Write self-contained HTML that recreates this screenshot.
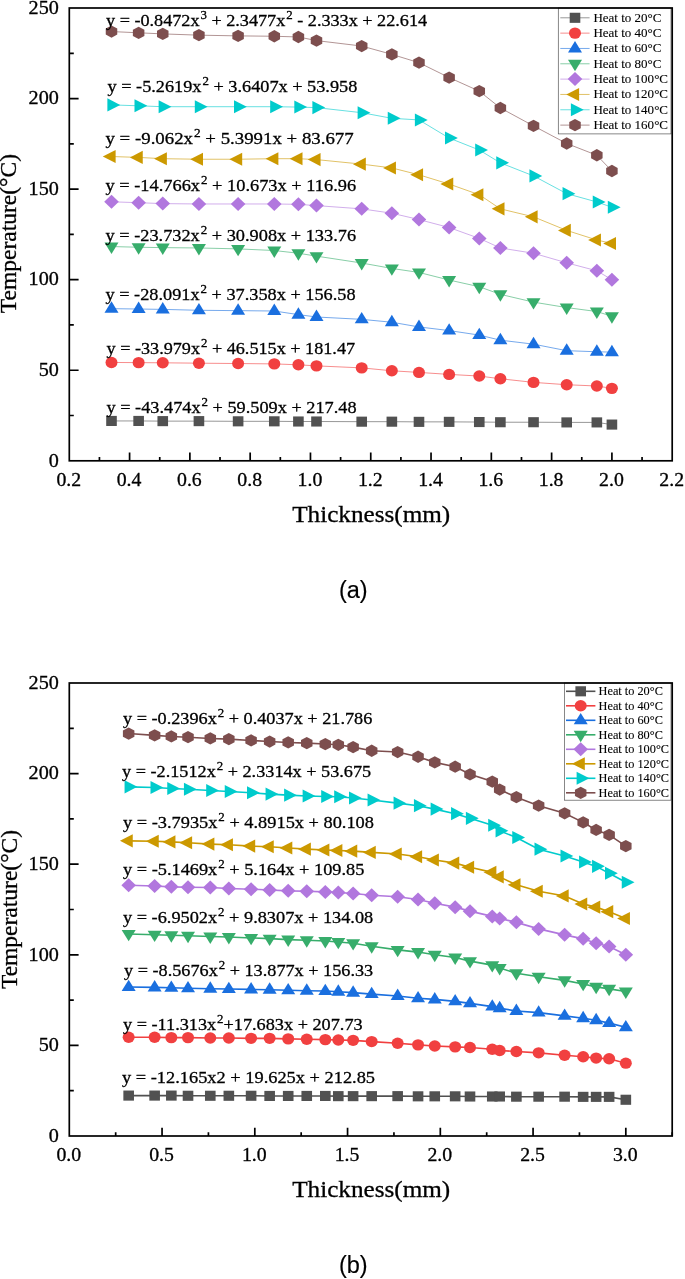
<!DOCTYPE html>
<html><head><meta charset="utf-8"><title>Temperature vs Thickness</title>
<style>
html,body{margin:0;padding:0;background:#fff;}
svg{display:block;will-change:transform;}
text{font-family:"Liberation Serif",serif;fill:#000;stroke:#000;stroke-width:0.3px;}
text.lg{stroke-width:0.1px;}
text.cap{font-family:"Liberation Sans",sans-serif;stroke-width:0.15px;}
</style></head>
<body>
<svg width="685" height="1279" viewBox="0 0 685 1279">
<rect width="685" height="1279" fill="#fff"/>
<g id="panel-a">
<polyline points="111.50,420.95 138.63,420.95 162.75,421.13 198.92,421.13 238.11,421.32 274.29,421.32 298.40,421.50 316.49,421.50 361.71,421.68 391.85,421.68 418.98,421.86 449.13,421.86 479.27,422.04 500.37,422.22 533.53,422.22 566.69,422.40 596.84,422.40 611.91,424.58" fill="none" stroke="#515151" stroke-width="0.6"/>
<rect x="106.20" y="415.90" width="10.61" height="10.10" fill="#515151"/>
<rect x="133.33" y="415.90" width="10.61" height="10.10" fill="#515151"/>
<rect x="157.45" y="416.08" width="10.61" height="10.10" fill="#515151"/>
<rect x="193.62" y="416.08" width="10.61" height="10.10" fill="#515151"/>
<rect x="232.81" y="416.27" width="10.61" height="10.10" fill="#515151"/>
<rect x="268.98" y="416.27" width="10.61" height="10.10" fill="#515151"/>
<rect x="293.10" y="416.45" width="10.61" height="10.10" fill="#515151"/>
<rect x="311.19" y="416.45" width="10.61" height="10.10" fill="#515151"/>
<rect x="356.40" y="416.63" width="10.61" height="10.10" fill="#515151"/>
<rect x="386.55" y="416.63" width="10.61" height="10.10" fill="#515151"/>
<rect x="413.68" y="416.81" width="10.61" height="10.10" fill="#515151"/>
<rect x="443.82" y="416.81" width="10.61" height="10.10" fill="#515151"/>
<rect x="473.97" y="416.99" width="10.61" height="10.10" fill="#515151"/>
<rect x="495.07" y="417.17" width="10.61" height="10.10" fill="#515151"/>
<rect x="528.23" y="417.17" width="10.61" height="10.10" fill="#515151"/>
<rect x="561.39" y="417.35" width="10.61" height="10.10" fill="#515151"/>
<rect x="591.54" y="417.35" width="10.61" height="10.10" fill="#515151"/>
<rect x="606.61" y="419.53" width="10.61" height="10.10" fill="#515151"/>
<polyline points="111.50,362.45 138.63,362.63 162.75,362.81 198.92,363.18 238.11,363.54 274.29,363.90 298.40,364.81 316.49,365.89 361.71,367.89 391.85,370.78 418.98,372.41 449.13,374.41 479.27,376.04 500.37,378.75 533.53,382.38 566.69,384.73 596.84,386.00 611.91,388.35" fill="none" stroke="#F14040" stroke-width="0.6"/>
<ellipse cx="111.50" cy="362.45" rx="6.00" ry="5.70" fill="#F14040"/>
<ellipse cx="138.63" cy="362.63" rx="6.00" ry="5.70" fill="#F14040"/>
<ellipse cx="162.75" cy="362.81" rx="6.00" ry="5.70" fill="#F14040"/>
<ellipse cx="198.92" cy="363.18" rx="6.00" ry="5.70" fill="#F14040"/>
<ellipse cx="238.11" cy="363.54" rx="6.00" ry="5.70" fill="#F14040"/>
<ellipse cx="274.29" cy="363.90" rx="6.00" ry="5.70" fill="#F14040"/>
<ellipse cx="298.40" cy="364.81" rx="6.00" ry="5.70" fill="#F14040"/>
<ellipse cx="316.49" cy="365.89" rx="6.00" ry="5.70" fill="#F14040"/>
<ellipse cx="361.71" cy="367.89" rx="6.00" ry="5.70" fill="#F14040"/>
<ellipse cx="391.85" cy="370.78" rx="6.00" ry="5.70" fill="#F14040"/>
<ellipse cx="418.98" cy="372.41" rx="6.00" ry="5.70" fill="#F14040"/>
<ellipse cx="449.13" cy="374.41" rx="6.00" ry="5.70" fill="#F14040"/>
<ellipse cx="479.27" cy="376.04" rx="6.00" ry="5.70" fill="#F14040"/>
<ellipse cx="500.37" cy="378.75" rx="6.00" ry="5.70" fill="#F14040"/>
<ellipse cx="533.53" cy="382.38" rx="6.00" ry="5.70" fill="#F14040"/>
<ellipse cx="566.69" cy="384.73" rx="6.00" ry="5.70" fill="#F14040"/>
<ellipse cx="596.84" cy="386.00" rx="6.00" ry="5.70" fill="#F14040"/>
<ellipse cx="611.91" cy="388.35" rx="6.00" ry="5.70" fill="#F14040"/>
<polyline points="111.50,308.66 138.63,309.02 162.75,309.38 198.92,310.29 238.11,310.65 274.29,311.01 298.40,314.64 316.49,316.99 361.71,319.35 391.85,322.24 418.98,326.95 449.13,330.57 479.27,335.10 500.37,340.17 533.53,344.16 566.69,350.68 596.84,351.77 611.91,352.13" fill="none" stroke="#1A6FDF" stroke-width="0.6"/>
<polygon points="111.50,301.26 118.50,312.66 104.50,312.66" fill="#1A6FDF"/>
<polygon points="138.63,301.62 145.63,313.02 131.63,313.02" fill="#1A6FDF"/>
<polygon points="162.75,301.98 169.75,313.38 155.75,313.38" fill="#1A6FDF"/>
<polygon points="198.92,302.89 205.92,314.29 191.92,314.29" fill="#1A6FDF"/>
<polygon points="238.11,303.25 245.11,314.65 231.11,314.65" fill="#1A6FDF"/>
<polygon points="274.29,303.61 281.29,315.01 267.29,315.01" fill="#1A6FDF"/>
<polygon points="298.40,307.24 305.40,318.64 291.40,318.64" fill="#1A6FDF"/>
<polygon points="316.49,309.59 323.49,320.99 309.49,320.99" fill="#1A6FDF"/>
<polygon points="361.71,311.95 368.71,323.35 354.71,323.35" fill="#1A6FDF"/>
<polygon points="391.85,314.84 398.85,326.24 384.85,326.24" fill="#1A6FDF"/>
<polygon points="418.98,319.55 425.98,330.95 411.98,330.95" fill="#1A6FDF"/>
<polygon points="449.13,323.17 456.13,334.57 442.13,334.57" fill="#1A6FDF"/>
<polygon points="479.27,327.70 486.27,339.10 472.27,339.10" fill="#1A6FDF"/>
<polygon points="500.37,332.77 507.37,344.17 493.37,344.17" fill="#1A6FDF"/>
<polygon points="533.53,336.76 540.53,348.16 526.53,348.16" fill="#1A6FDF"/>
<polygon points="566.69,343.28 573.69,354.68 559.69,354.68" fill="#1A6FDF"/>
<polygon points="596.84,344.37 603.84,355.77 589.84,355.77" fill="#1A6FDF"/>
<polygon points="611.91,344.73 618.91,356.13 604.91,356.13" fill="#1A6FDF"/>
<polyline points="111.50,246.54 138.63,247.26 162.75,247.62 198.92,247.98 238.11,248.89 274.29,250.52 298.40,253.24 316.49,256.13 361.71,263.02 391.85,268.45 418.98,272.44 449.13,280.04 479.27,286.74 500.37,294.35 533.53,302.14 566.69,307.57 596.84,311.56 611.91,316.27" fill="none" stroke="#37AD6B" stroke-width="0.6"/>
<polygon points="111.50,253.94 118.50,242.54 104.50,242.54" fill="#37AD6B"/>
<polygon points="138.63,254.66 145.63,243.26 131.63,243.26" fill="#37AD6B"/>
<polygon points="162.75,255.02 169.75,243.62 155.75,243.62" fill="#37AD6B"/>
<polygon points="198.92,255.38 205.92,243.98 191.92,243.98" fill="#37AD6B"/>
<polygon points="238.11,256.29 245.11,244.89 231.11,244.89" fill="#37AD6B"/>
<polygon points="274.29,257.92 281.29,246.52 267.29,246.52" fill="#37AD6B"/>
<polygon points="298.40,260.64 305.40,249.24 291.40,249.24" fill="#37AD6B"/>
<polygon points="316.49,263.53 323.49,252.13 309.49,252.13" fill="#37AD6B"/>
<polygon points="361.71,270.42 368.71,259.02 354.71,259.02" fill="#37AD6B"/>
<polygon points="391.85,275.85 398.85,264.45 384.85,264.45" fill="#37AD6B"/>
<polygon points="418.98,279.84 425.98,268.44 411.98,268.44" fill="#37AD6B"/>
<polygon points="449.13,287.44 456.13,276.04 442.13,276.04" fill="#37AD6B"/>
<polygon points="479.27,294.14 486.27,282.74 472.27,282.74" fill="#37AD6B"/>
<polygon points="500.37,301.75 507.37,290.35 493.37,290.35" fill="#37AD6B"/>
<polygon points="533.53,309.54 540.53,298.14 526.53,298.14" fill="#37AD6B"/>
<polygon points="566.69,314.97 573.69,303.57 559.69,303.57" fill="#37AD6B"/>
<polygon points="596.84,318.96 603.84,307.56 589.84,307.56" fill="#37AD6B"/>
<polygon points="611.91,323.67 618.91,312.27 604.91,312.27" fill="#37AD6B"/>
<polyline points="111.50,201.80 138.63,202.70 162.75,203.61 198.92,203.97 238.11,203.97 274.29,203.97 298.40,204.33 316.49,205.60 361.71,208.86 391.85,213.21 418.98,219.55 449.13,227.52 479.27,238.38 500.37,247.98 533.53,253.24 566.69,262.84 596.84,270.81 611.91,279.68" fill="none" stroke="#B177DE" stroke-width="0.6"/>
<polygon points="111.50,194.80 118.80,201.80 111.50,208.80 104.20,201.80" fill="#B177DE"/>
<polygon points="138.63,195.70 145.93,202.70 138.63,209.70 131.33,202.70" fill="#B177DE"/>
<polygon points="162.75,196.61 170.05,203.61 162.75,210.61 155.45,203.61" fill="#B177DE"/>
<polygon points="198.92,196.97 206.22,203.97 198.92,210.97 191.62,203.97" fill="#B177DE"/>
<polygon points="238.11,196.97 245.41,203.97 238.11,210.97 230.81,203.97" fill="#B177DE"/>
<polygon points="274.29,196.97 281.59,203.97 274.29,210.97 266.99,203.97" fill="#B177DE"/>
<polygon points="298.40,197.33 305.70,204.33 298.40,211.33 291.10,204.33" fill="#B177DE"/>
<polygon points="316.49,198.60 323.79,205.60 316.49,212.60 309.19,205.60" fill="#B177DE"/>
<polygon points="361.71,201.86 369.01,208.86 361.71,215.86 354.41,208.86" fill="#B177DE"/>
<polygon points="391.85,206.21 399.15,213.21 391.85,220.21 384.55,213.21" fill="#B177DE"/>
<polygon points="418.98,212.55 426.28,219.55 418.98,226.55 411.68,219.55" fill="#B177DE"/>
<polygon points="449.13,220.52 456.43,227.52 449.13,234.52 441.83,227.52" fill="#B177DE"/>
<polygon points="479.27,231.38 486.57,238.38 479.27,245.38 471.97,238.38" fill="#B177DE"/>
<polygon points="500.37,240.98 507.67,247.98 500.37,254.98 493.07,247.98" fill="#B177DE"/>
<polygon points="533.53,246.24 540.83,253.24 533.53,260.24 526.23,253.24" fill="#B177DE"/>
<polygon points="566.69,255.84 573.99,262.84 566.69,269.84 559.39,262.84" fill="#B177DE"/>
<polygon points="596.84,263.81 604.14,270.81 596.84,277.81 589.54,270.81" fill="#B177DE"/>
<polygon points="611.91,272.68 619.21,279.68 611.91,286.68 604.61,279.68" fill="#B177DE"/>
<polyline points="111.50,156.52 138.63,157.42 162.75,158.69 198.92,159.24 238.11,159.24 274.29,158.69 298.40,158.69 316.49,159.60 361.71,164.13 391.85,167.93 418.98,174.81 449.13,184.05 479.27,194.73 500.37,208.86 533.53,216.83 566.69,230.42 596.84,240.01 611.91,243.46" fill="none" stroke="#CC9900" stroke-width="0.6"/>
<polygon points="102.80,156.52 115.60,149.97 115.60,163.07" fill="#CC9900"/>
<polygon points="129.93,157.42 142.73,150.87 142.73,163.97" fill="#CC9900"/>
<polygon points="154.05,158.69 166.85,152.14 166.85,165.24" fill="#CC9900"/>
<polygon points="190.22,159.24 203.02,152.69 203.02,165.79" fill="#CC9900"/>
<polygon points="229.41,159.24 242.21,152.69 242.21,165.79" fill="#CC9900"/>
<polygon points="265.59,158.69 278.39,152.14 278.39,165.24" fill="#CC9900"/>
<polygon points="289.70,158.69 302.50,152.14 302.50,165.24" fill="#CC9900"/>
<polygon points="307.79,159.60 320.59,153.05 320.59,166.15" fill="#CC9900"/>
<polygon points="353.01,164.13 365.81,157.58 365.81,170.68" fill="#CC9900"/>
<polygon points="383.15,167.93 395.95,161.38 395.95,174.48" fill="#CC9900"/>
<polygon points="410.28,174.81 423.08,168.26 423.08,181.36" fill="#CC9900"/>
<polygon points="440.43,184.05 453.23,177.50 453.23,190.60" fill="#CC9900"/>
<polygon points="470.57,194.73 483.37,188.18 483.37,201.28" fill="#CC9900"/>
<polygon points="491.67,208.86 504.47,202.31 504.47,215.41" fill="#CC9900"/>
<polygon points="524.83,216.83 537.63,210.28 537.63,223.38" fill="#CC9900"/>
<polygon points="557.99,230.42 570.79,223.87 570.79,236.97" fill="#CC9900"/>
<polygon points="588.14,240.01 600.94,233.46 600.94,246.56" fill="#CC9900"/>
<polygon points="603.21,243.46 616.01,236.91 616.01,250.01" fill="#CC9900"/>
<polyline points="111.50,104.90 138.63,105.80 162.75,106.71 198.92,106.71 238.11,106.71 274.29,106.71 298.40,107.07 316.49,107.62 361.71,112.69 391.85,118.30 418.98,119.93 449.13,138.04 479.27,150.00 500.37,162.86 533.53,175.90 566.69,193.65 596.84,201.98 611.91,207.23" fill="none" stroke="#00CBCC" stroke-width="0.6"/>
<polygon points="120.20,104.90 107.40,98.35 107.40,111.45" fill="#00CBCC"/>
<polygon points="147.33,105.80 134.53,99.25 134.53,112.35" fill="#00CBCC"/>
<polygon points="171.45,106.71 158.65,100.16 158.65,113.26" fill="#00CBCC"/>
<polygon points="207.62,106.71 194.82,100.16 194.82,113.26" fill="#00CBCC"/>
<polygon points="246.81,106.71 234.01,100.16 234.01,113.26" fill="#00CBCC"/>
<polygon points="282.99,106.71 270.19,100.16 270.19,113.26" fill="#00CBCC"/>
<polygon points="307.10,107.07 294.30,100.52 294.30,113.62" fill="#00CBCC"/>
<polygon points="325.19,107.62 312.39,101.07 312.39,114.17" fill="#00CBCC"/>
<polygon points="370.41,112.69 357.61,106.14 357.61,119.24" fill="#00CBCC"/>
<polygon points="400.55,118.30 387.75,111.75 387.75,124.85" fill="#00CBCC"/>
<polygon points="427.68,119.93 414.88,113.38 414.88,126.48" fill="#00CBCC"/>
<polygon points="457.83,138.04 445.03,131.49 445.03,144.59" fill="#00CBCC"/>
<polygon points="487.97,150.00 475.17,143.45 475.17,156.55" fill="#00CBCC"/>
<polygon points="509.07,162.86 496.27,156.31 496.27,169.41" fill="#00CBCC"/>
<polygon points="542.23,175.90 529.43,169.35 529.43,182.45" fill="#00CBCC"/>
<polygon points="575.39,193.65 562.59,187.10 562.59,200.20" fill="#00CBCC"/>
<polygon points="605.54,201.98 592.74,195.43 592.74,208.53" fill="#00CBCC"/>
<polygon points="620.61,207.23 607.81,200.68 607.81,213.78" fill="#00CBCC"/>
<polyline points="111.50,31.55 138.63,32.81 162.75,33.90 198.92,35.17 238.11,35.89 274.29,36.25 298.40,36.98 316.49,40.60 361.71,46.04 391.85,54.37 418.98,62.70 449.13,77.55 479.27,91.13 500.37,107.98 533.53,125.91 566.69,143.48 596.84,155.25 611.91,171.01" fill="none" stroke="#7D4E4E" stroke-width="0.6"/>
<polygon points="111.50,25.40 117.25,28.47 117.25,34.62 111.50,37.70 105.75,34.62 105.75,28.47" fill="#7D4E4E"/>
<polygon points="138.63,26.66 144.38,29.74 144.38,35.89 138.63,38.96 132.88,35.89 132.88,29.74" fill="#7D4E4E"/>
<polygon points="162.75,27.75 168.50,30.83 168.50,36.98 162.75,40.05 157.00,36.98 157.00,30.83" fill="#7D4E4E"/>
<polygon points="198.92,29.02 204.67,32.09 204.67,38.24 198.92,41.32 193.17,38.24 193.17,32.09" fill="#7D4E4E"/>
<polygon points="238.11,29.74 243.86,32.82 243.86,38.97 238.11,42.04 232.36,38.97 232.36,32.82" fill="#7D4E4E"/>
<polygon points="274.29,30.10 280.04,33.18 280.04,39.33 274.29,42.40 268.54,39.33 268.54,33.18" fill="#7D4E4E"/>
<polygon points="298.40,30.83 304.15,33.90 304.15,40.05 298.40,43.13 292.65,40.05 292.65,33.90" fill="#7D4E4E"/>
<polygon points="316.49,34.45 322.24,37.53 322.24,43.68 316.49,46.75 310.74,43.68 310.74,37.53" fill="#7D4E4E"/>
<polygon points="361.71,39.89 367.46,42.96 367.46,49.11 361.71,52.19 355.96,49.11 355.96,42.96" fill="#7D4E4E"/>
<polygon points="391.85,48.22 397.60,51.29 397.60,57.44 391.85,60.52 386.10,57.44 386.10,51.29" fill="#7D4E4E"/>
<polygon points="418.98,56.55 424.73,59.62 424.73,65.77 418.98,68.85 413.23,65.77 413.23,59.62" fill="#7D4E4E"/>
<polygon points="449.13,71.40 454.88,74.48 454.88,80.63 449.13,83.70 443.38,80.63 443.38,74.48" fill="#7D4E4E"/>
<polygon points="479.27,84.98 485.02,88.06 485.02,94.21 479.27,97.28 473.52,94.21 473.52,88.06" fill="#7D4E4E"/>
<polygon points="500.37,101.83 506.12,104.90 506.12,111.05 500.37,114.13 494.62,111.05 494.62,104.90" fill="#7D4E4E"/>
<polygon points="533.53,119.76 539.28,122.83 539.28,128.98 533.53,132.06 527.78,128.98 527.78,122.83" fill="#7D4E4E"/>
<polygon points="566.69,137.33 572.44,140.40 572.44,146.55 566.69,149.63 560.94,146.55 560.94,140.40" fill="#7D4E4E"/>
<polygon points="596.84,149.10 602.59,152.18 602.59,158.33 596.84,161.40 591.09,158.33 591.09,152.18" fill="#7D4E4E"/>
<polygon points="611.91,164.86 617.66,167.93 617.66,174.08 611.91,177.16 606.16,174.08 606.16,167.93" fill="#7D4E4E"/>
<text transform="translate(106.0,25.8) scale(1.0396,1)" font-size="17.5">y = -0.8472x<tspan dx="0.9" dy="-7.0" font-size="12.4">3</tspan><tspan dy="7.0"> + 2.3477x</tspan><tspan dx="0.9" dy="-7.0" font-size="12.4">2</tspan><tspan dy="7.0"> - 2.333x + 22.614</tspan></text>
<text transform="translate(107.5,91.9) scale(1.0444,1)" font-size="17.5">y = -5.2619x<tspan dx="0.9" dy="-7.0" font-size="12.4">2</tspan><tspan dy="7.0"> + 3.6407x + 53.958</tspan></text>
<text transform="translate(105.5,144.2) scale(1.0764,1)" font-size="17.5">y = -9.062x<tspan dx="0.9" dy="-7.0" font-size="12.4">2</tspan><tspan dy="7.0"> + 5.3991x + 83.677</tspan></text>
<text transform="translate(105.5,191.1) scale(1.0498,1)" font-size="17.5">y = -14.766x<tspan dx="0.9" dy="-7.0" font-size="12.4">2</tspan><tspan dy="7.0"> + 10.673x + 116.96</tspan></text>
<text transform="translate(105.5,240.8) scale(1.0472,1)" font-size="17.5">y = -23.732x<tspan dx="0.9" dy="-7.0" font-size="12.4">2</tspan><tspan dy="7.0"> + 30.908x + 133.76</tspan></text>
<text transform="translate(105.5,299.7) scale(1.0453,1)" font-size="17.5">y = -28.091x<tspan dx="0.9" dy="-7.0" font-size="12.4">2</tspan><tspan dy="7.0"> + 37.358x + 156.58</tspan></text>
<text transform="translate(106.5,353.5) scale(1.0393,1)" font-size="17.5">y = -33.979x<tspan dx="0.9" dy="-7.0" font-size="12.4">2</tspan><tspan dy="7.0"> + 46.515x + 181.47</tspan></text>
<text transform="translate(106.5,412.7) scale(1.0453,1)" font-size="17.5">y = -43.474x<tspan dx="0.9" dy="-7.0" font-size="12.4">2</tspan><tspan dy="7.0"> + 59.509x + 217.48</tspan></text>
<path d="M129.59,460.8 v-8.3 M189.88,460.8 v-8.3 M250.17,460.8 v-8.3 M310.46,460.8 v-8.3 M370.75,460.8 v-8.3 M431.04,460.8 v-8.3 M491.33,460.8 v-8.3 M551.62,460.8 v-8.3 M611.91,460.8 v-8.3 M99.44,460.8 v-3.8 M159.74,460.8 v-3.8 M220.02,460.8 v-3.8 M280.32,460.8 v-3.8 M340.61,460.8 v-3.8 M400.90,460.8 v-3.8 M461.19,460.8 v-3.8 M521.48,460.8 v-3.8 M581.77,460.8 v-3.8 M642.06,460.8 v-3.8 M69.3,370.24 h9.3 M69.3,279.68 h9.3 M69.3,189.12 h9.3 M69.3,98.56 h9.3 M69.3,415.52 h4.5 M69.3,324.96 h4.5 M69.3,234.40 h4.5 M69.3,143.84 h4.5 M69.3,53.28 h4.5" stroke="#000" stroke-width="1.7" fill="none"/>
<rect x="558.3" y="8.0" width="112.7" height="125.9" fill="#fff" stroke="#555" stroke-width="0.7"/>
<line x1="560.3" y1="17.80" x2="589.6" y2="17.80" stroke="#515151" stroke-width="0.6"/>
<rect x="569.70" y="12.75" width="10.61" height="10.10" fill="#515151"/>
<text class="lg" transform="translate(593.4,21.67) scale(1.01,1)" font-size="12.9">Heat to 20°C</text>
<line x1="560.3" y1="33.13" x2="589.6" y2="33.13" stroke="#F14040" stroke-width="0.6"/>
<ellipse cx="575.00" cy="33.13" rx="6.00" ry="5.70" fill="#F14040"/>
<text class="lg" transform="translate(593.4,37.00) scale(1.01,1)" font-size="12.9">Heat to 40°C</text>
<line x1="560.3" y1="48.46" x2="589.6" y2="48.46" stroke="#1A6FDF" stroke-width="0.6"/>
<polygon points="575.00,41.06 582.00,52.46 568.00,52.46" fill="#1A6FDF"/>
<text class="lg" transform="translate(593.4,52.33) scale(1.01,1)" font-size="12.9">Heat to 60°C</text>
<line x1="560.3" y1="63.79" x2="589.6" y2="63.79" stroke="#37AD6B" stroke-width="0.6"/>
<polygon points="575.00,71.19 582.00,59.79 568.00,59.79" fill="#37AD6B"/>
<text class="lg" transform="translate(593.4,67.66) scale(1.01,1)" font-size="12.9">Heat to 80°C</text>
<line x1="560.3" y1="79.12" x2="589.6" y2="79.12" stroke="#B177DE" stroke-width="0.6"/>
<polygon points="575.00,72.12 582.30,79.12 575.00,86.12 567.70,79.12" fill="#B177DE"/>
<text class="lg" transform="translate(593.4,82.99) scale(1.01,1)" font-size="12.9">Heat to 100°C</text>
<line x1="560.3" y1="94.45" x2="589.6" y2="94.45" stroke="#CC9900" stroke-width="0.6"/>
<polygon points="566.30,94.45 579.10,87.90 579.10,101.00" fill="#CC9900"/>
<text class="lg" transform="translate(593.4,98.32) scale(1.01,1)" font-size="12.9">Heat to 120°C</text>
<line x1="560.3" y1="109.78" x2="589.6" y2="109.78" stroke="#00CBCC" stroke-width="0.6"/>
<polygon points="583.70,109.78 570.90,103.23 570.90,116.33" fill="#00CBCC"/>
<text class="lg" transform="translate(593.4,113.65) scale(1.01,1)" font-size="12.9">Heat to 140°C</text>
<line x1="560.3" y1="125.11" x2="589.6" y2="125.11" stroke="#7D4E4E" stroke-width="0.6"/>
<polygon points="575.00,118.96 580.75,122.03 580.75,128.19 575.00,131.26 569.25,128.19 569.25,122.03" fill="#7D4E4E"/>
<text class="lg" transform="translate(593.4,128.98) scale(1.01,1)" font-size="12.9">Heat to 160°C</text>
<rect x="69.3" y="8.0" width="602.9" height="452.8" fill="none" stroke="#000" stroke-width="1.7"/>
<text transform="translate(58.8,466.60) scale(1.05,1)" font-size="19.2" text-anchor="end">0</text>
<text transform="translate(58.8,376.04) scale(1.05,1)" font-size="19.2" text-anchor="end">50</text>
<text transform="translate(58.8,285.48) scale(1.05,1)" font-size="19.2" text-anchor="end">100</text>
<text transform="translate(58.8,194.92) scale(1.05,1)" font-size="19.2" text-anchor="end">150</text>
<text transform="translate(58.8,104.36) scale(1.05,1)" font-size="19.2" text-anchor="end">200</text>
<text transform="translate(58.8,13.80) scale(1.05,1)" font-size="19.2" text-anchor="end">250</text>
<text transform="translate(68.80,485.50) scale(1.03,1)" font-size="19.2" text-anchor="middle">0.2</text>
<text transform="translate(129.09,485.50) scale(1.03,1)" font-size="19.2" text-anchor="middle">0.4</text>
<text transform="translate(189.38,485.50) scale(1.03,1)" font-size="19.2" text-anchor="middle">0.6</text>
<text transform="translate(249.67,485.50) scale(1.03,1)" font-size="19.2" text-anchor="middle">0.8</text>
<text transform="translate(309.96,485.50) scale(1.03,1)" font-size="19.2" text-anchor="middle">1.0</text>
<text transform="translate(370.25,485.50) scale(1.03,1)" font-size="19.2" text-anchor="middle">1.2</text>
<text transform="translate(430.54,485.50) scale(1.03,1)" font-size="19.2" text-anchor="middle">1.4</text>
<text transform="translate(490.83,485.50) scale(1.03,1)" font-size="19.2" text-anchor="middle">1.6</text>
<text transform="translate(551.12,485.50) scale(1.03,1)" font-size="19.2" text-anchor="middle">1.8</text>
<text transform="translate(611.41,485.50) scale(1.03,1)" font-size="19.2" text-anchor="middle">2.0</text>
<text transform="translate(671.70,485.50) scale(1.03,1)" font-size="19.2" text-anchor="middle">2.2</text>
<text transform="translate(371.2,522.0) scale(1.05,1)" font-size="24" text-anchor="middle">Thickness(mm)</text>
<text transform="translate(16.4,233.6) rotate(-90) scale(0.98,1)" font-size="24" text-anchor="middle">Temperature(°C)</text>
<text class="cap" x="353.3" y="598" font-size="23.5" text-anchor="middle">(a)</text>
</g>
<g id="panel-b">
<polyline points="128.66,1095.59 154.63,1095.59 171.33,1095.59 188.02,1095.77 210.29,1095.77 228.84,1095.77 251.10,1095.77 269.65,1095.95 288.20,1095.95 306.75,1095.95 325.30,1095.95 338.29,1096.14 353.13,1096.14 371.68,1096.14 397.65,1096.14 418.05,1096.32 434.75,1096.32 455.16,1096.32 470.00,1096.50 492.26,1096.50 499.68,1096.50 516.37,1096.68 538.63,1096.68 564.61,1096.68 583.16,1096.86 596.14,1096.86 609.13,1096.86 625.82,1099.76" fill="none" stroke="#515151" stroke-width="1.6"/>
<rect x="123.36" y="1090.54" width="10.61" height="10.10" fill="#515151"/>
<rect x="149.33" y="1090.54" width="10.61" height="10.10" fill="#515151"/>
<rect x="166.03" y="1090.54" width="10.61" height="10.10" fill="#515151"/>
<rect x="182.72" y="1090.72" width="10.61" height="10.10" fill="#515151"/>
<rect x="204.98" y="1090.72" width="10.61" height="10.10" fill="#515151"/>
<rect x="223.53" y="1090.72" width="10.61" height="10.10" fill="#515151"/>
<rect x="245.80" y="1090.72" width="10.61" height="10.10" fill="#515151"/>
<rect x="264.35" y="1090.90" width="10.61" height="10.10" fill="#515151"/>
<rect x="282.90" y="1090.90" width="10.61" height="10.10" fill="#515151"/>
<rect x="301.45" y="1090.90" width="10.61" height="10.10" fill="#515151"/>
<rect x="320.00" y="1090.90" width="10.61" height="10.10" fill="#515151"/>
<rect x="332.98" y="1091.09" width="10.61" height="10.10" fill="#515151"/>
<rect x="347.82" y="1091.09" width="10.61" height="10.10" fill="#515151"/>
<rect x="366.38" y="1091.09" width="10.61" height="10.10" fill="#515151"/>
<rect x="392.35" y="1091.09" width="10.61" height="10.10" fill="#515151"/>
<rect x="412.75" y="1091.27" width="10.61" height="10.10" fill="#515151"/>
<rect x="429.45" y="1091.27" width="10.61" height="10.10" fill="#515151"/>
<rect x="449.85" y="1091.27" width="10.61" height="10.10" fill="#515151"/>
<rect x="464.69" y="1091.45" width="10.61" height="10.10" fill="#515151"/>
<rect x="486.96" y="1091.45" width="10.61" height="10.10" fill="#515151"/>
<rect x="494.38" y="1091.45" width="10.61" height="10.10" fill="#515151"/>
<rect x="511.07" y="1091.63" width="10.61" height="10.10" fill="#515151"/>
<rect x="533.33" y="1091.63" width="10.61" height="10.10" fill="#515151"/>
<rect x="559.30" y="1091.63" width="10.61" height="10.10" fill="#515151"/>
<rect x="577.85" y="1091.81" width="10.61" height="10.10" fill="#515151"/>
<rect x="590.84" y="1091.81" width="10.61" height="10.10" fill="#515151"/>
<rect x="603.82" y="1091.81" width="10.61" height="10.10" fill="#515151"/>
<rect x="620.52" y="1094.71" width="10.61" height="10.10" fill="#515151"/>
<polyline points="128.66,1037.25 154.63,1037.25 171.33,1037.61 188.02,1037.61 210.29,1037.97 228.84,1037.97 251.10,1038.33 269.65,1038.33 288.20,1038.88 306.75,1039.24 325.30,1039.60 338.29,1039.96 353.13,1040.33 371.68,1041.59 397.65,1043.23 418.05,1044.86 434.75,1045.94 455.16,1046.85 470.00,1047.57 492.26,1049.21 499.68,1050.47 516.37,1051.56 538.63,1052.83 564.61,1055.18 583.16,1056.82 596.14,1058.08 609.13,1058.81 625.82,1063.16" fill="none" stroke="#F14040" stroke-width="1.6"/>
<ellipse cx="128.66" cy="1037.25" rx="6.00" ry="5.70" fill="#F14040"/>
<ellipse cx="154.63" cy="1037.25" rx="6.00" ry="5.70" fill="#F14040"/>
<ellipse cx="171.33" cy="1037.61" rx="6.00" ry="5.70" fill="#F14040"/>
<ellipse cx="188.02" cy="1037.61" rx="6.00" ry="5.70" fill="#F14040"/>
<ellipse cx="210.29" cy="1037.97" rx="6.00" ry="5.70" fill="#F14040"/>
<ellipse cx="228.84" cy="1037.97" rx="6.00" ry="5.70" fill="#F14040"/>
<ellipse cx="251.10" cy="1038.33" rx="6.00" ry="5.70" fill="#F14040"/>
<ellipse cx="269.65" cy="1038.33" rx="6.00" ry="5.70" fill="#F14040"/>
<ellipse cx="288.20" cy="1038.88" rx="6.00" ry="5.70" fill="#F14040"/>
<ellipse cx="306.75" cy="1039.24" rx="6.00" ry="5.70" fill="#F14040"/>
<ellipse cx="325.30" cy="1039.60" rx="6.00" ry="5.70" fill="#F14040"/>
<ellipse cx="338.29" cy="1039.96" rx="6.00" ry="5.70" fill="#F14040"/>
<ellipse cx="353.13" cy="1040.33" rx="6.00" ry="5.70" fill="#F14040"/>
<ellipse cx="371.68" cy="1041.59" rx="6.00" ry="5.70" fill="#F14040"/>
<ellipse cx="397.65" cy="1043.23" rx="6.00" ry="5.70" fill="#F14040"/>
<ellipse cx="418.05" cy="1044.86" rx="6.00" ry="5.70" fill="#F14040"/>
<ellipse cx="434.75" cy="1045.94" rx="6.00" ry="5.70" fill="#F14040"/>
<ellipse cx="455.16" cy="1046.85" rx="6.00" ry="5.70" fill="#F14040"/>
<ellipse cx="470.00" cy="1047.57" rx="6.00" ry="5.70" fill="#F14040"/>
<ellipse cx="492.26" cy="1049.21" rx="6.00" ry="5.70" fill="#F14040"/>
<ellipse cx="499.68" cy="1050.47" rx="6.00" ry="5.70" fill="#F14040"/>
<ellipse cx="516.37" cy="1051.56" rx="6.00" ry="5.70" fill="#F14040"/>
<ellipse cx="538.63" cy="1052.83" rx="6.00" ry="5.70" fill="#F14040"/>
<ellipse cx="564.61" cy="1055.18" rx="6.00" ry="5.70" fill="#F14040"/>
<ellipse cx="583.16" cy="1056.82" rx="6.00" ry="5.70" fill="#F14040"/>
<ellipse cx="596.14" cy="1058.08" rx="6.00" ry="5.70" fill="#F14040"/>
<ellipse cx="609.13" cy="1058.81" rx="6.00" ry="5.70" fill="#F14040"/>
<ellipse cx="625.82" cy="1063.16" rx="6.00" ry="5.70" fill="#F14040"/>
<polyline points="128.66,987.05 154.63,987.42 171.33,987.78 188.02,988.32 210.29,988.68 228.84,989.05 251.10,989.41 269.65,989.77 288.20,990.32 306.75,990.68 325.30,991.04 338.29,991.76 353.13,992.67 371.68,994.12 397.65,995.93 418.05,998.29 434.75,999.38 455.16,1001.37 470.00,1003.36 492.26,1006.62 499.68,1008.25 516.37,1010.97 538.63,1012.60 564.61,1015.86 583.16,1018.22 596.14,1020.21 609.13,1023.11 625.82,1027.28" fill="none" stroke="#1A6FDF" stroke-width="1.6"/>
<polygon points="128.66,979.65 135.66,991.05 121.66,991.05" fill="#1A6FDF"/>
<polygon points="154.63,980.02 161.63,991.42 147.63,991.42" fill="#1A6FDF"/>
<polygon points="171.33,980.38 178.33,991.78 164.33,991.78" fill="#1A6FDF"/>
<polygon points="188.02,980.92 195.02,992.32 181.02,992.32" fill="#1A6FDF"/>
<polygon points="210.29,981.28 217.29,992.68 203.29,992.68" fill="#1A6FDF"/>
<polygon points="228.84,981.65 235.84,993.05 221.84,993.05" fill="#1A6FDF"/>
<polygon points="251.10,982.01 258.10,993.41 244.10,993.41" fill="#1A6FDF"/>
<polygon points="269.65,982.37 276.65,993.77 262.65,993.77" fill="#1A6FDF"/>
<polygon points="288.20,982.92 295.20,994.32 281.20,994.32" fill="#1A6FDF"/>
<polygon points="306.75,983.28 313.75,994.68 299.75,994.68" fill="#1A6FDF"/>
<polygon points="325.30,983.64 332.30,995.04 318.30,995.04" fill="#1A6FDF"/>
<polygon points="338.29,984.36 345.29,995.76 331.29,995.76" fill="#1A6FDF"/>
<polygon points="353.13,985.27 360.13,996.67 346.13,996.67" fill="#1A6FDF"/>
<polygon points="371.68,986.72 378.68,998.12 364.68,998.12" fill="#1A6FDF"/>
<polygon points="397.65,988.53 404.65,999.93 390.65,999.93" fill="#1A6FDF"/>
<polygon points="418.05,990.89 425.05,1002.29 411.05,1002.29" fill="#1A6FDF"/>
<polygon points="434.75,991.98 441.75,1003.38 427.75,1003.38" fill="#1A6FDF"/>
<polygon points="455.16,993.97 462.16,1005.37 448.16,1005.37" fill="#1A6FDF"/>
<polygon points="470.00,995.96 477.00,1007.36 463.00,1007.36" fill="#1A6FDF"/>
<polygon points="492.26,999.22 499.26,1010.62 485.26,1010.62" fill="#1A6FDF"/>
<polygon points="499.68,1000.85 506.68,1012.25 492.68,1012.25" fill="#1A6FDF"/>
<polygon points="516.37,1003.57 523.37,1014.97 509.37,1014.97" fill="#1A6FDF"/>
<polygon points="538.63,1005.20 545.63,1016.60 531.63,1016.60" fill="#1A6FDF"/>
<polygon points="564.61,1008.46 571.61,1019.86 557.61,1019.86" fill="#1A6FDF"/>
<polygon points="583.16,1010.82 590.16,1022.22 576.16,1022.22" fill="#1A6FDF"/>
<polygon points="596.14,1012.81 603.14,1024.21 589.14,1024.21" fill="#1A6FDF"/>
<polygon points="609.13,1015.71 616.13,1027.11 602.13,1027.11" fill="#1A6FDF"/>
<polygon points="625.82,1019.88 632.82,1031.28 618.82,1031.28" fill="#1A6FDF"/>
<polyline points="128.66,933.96 154.63,934.69 171.33,935.23 188.02,935.77 210.29,936.50 228.84,937.04 251.10,937.95 269.65,938.67 288.20,939.58 306.75,940.30 325.30,941.03 338.29,941.93 353.13,943.20 371.68,946.28 397.65,949.91 418.05,952.08 434.75,954.80 455.16,957.52 470.00,961.14 492.26,965.13 499.68,968.03 516.37,973.28 538.63,976.73 564.61,980.35 583.16,983.97 596.14,986.87 609.13,988.87 625.82,991.58" fill="none" stroke="#37AD6B" stroke-width="1.6"/>
<polygon points="128.66,941.36 135.66,929.96 121.66,929.96" fill="#37AD6B"/>
<polygon points="154.63,942.09 161.63,930.69 147.63,930.69" fill="#37AD6B"/>
<polygon points="171.33,942.63 178.33,931.23 164.33,931.23" fill="#37AD6B"/>
<polygon points="188.02,943.17 195.02,931.77 181.02,931.77" fill="#37AD6B"/>
<polygon points="210.29,943.90 217.29,932.50 203.29,932.50" fill="#37AD6B"/>
<polygon points="228.84,944.44 235.84,933.04 221.84,933.04" fill="#37AD6B"/>
<polygon points="251.10,945.35 258.10,933.95 244.10,933.95" fill="#37AD6B"/>
<polygon points="269.65,946.07 276.65,934.67 262.65,934.67" fill="#37AD6B"/>
<polygon points="288.20,946.98 295.20,935.58 281.20,935.58" fill="#37AD6B"/>
<polygon points="306.75,947.70 313.75,936.30 299.75,936.30" fill="#37AD6B"/>
<polygon points="325.30,948.43 332.30,937.03 318.30,937.03" fill="#37AD6B"/>
<polygon points="338.29,949.33 345.29,937.93 331.29,937.93" fill="#37AD6B"/>
<polygon points="353.13,950.60 360.13,939.20 346.13,939.20" fill="#37AD6B"/>
<polygon points="371.68,953.68 378.68,942.28 364.68,942.28" fill="#37AD6B"/>
<polygon points="397.65,957.31 404.65,945.91 390.65,945.91" fill="#37AD6B"/>
<polygon points="418.05,959.48 425.05,948.08 411.05,948.08" fill="#37AD6B"/>
<polygon points="434.75,962.20 441.75,950.80 427.75,950.80" fill="#37AD6B"/>
<polygon points="455.16,964.92 462.16,953.52 448.16,953.52" fill="#37AD6B"/>
<polygon points="470.00,968.54 477.00,957.14 463.00,957.14" fill="#37AD6B"/>
<polygon points="492.26,972.53 499.26,961.13 485.26,961.13" fill="#37AD6B"/>
<polygon points="499.68,975.43 506.68,964.03 492.68,964.03" fill="#37AD6B"/>
<polygon points="516.37,980.68 523.37,969.28 509.37,969.28" fill="#37AD6B"/>
<polygon points="538.63,984.13 545.63,972.73 531.63,972.73" fill="#37AD6B"/>
<polygon points="564.61,987.75 571.61,976.35 557.61,976.35" fill="#37AD6B"/>
<polygon points="583.16,991.37 590.16,979.97 576.16,979.97" fill="#37AD6B"/>
<polygon points="596.14,994.27 603.14,982.87 589.14,982.87" fill="#37AD6B"/>
<polygon points="609.13,996.27 616.13,984.87 602.13,984.87" fill="#37AD6B"/>
<polygon points="625.82,998.98 632.82,987.58 618.82,987.58" fill="#37AD6B"/>
<polyline points="128.66,885.22 154.63,885.94 171.33,886.85 188.02,887.21 210.29,887.57 228.84,888.48 251.10,889.21 269.65,889.93 288.20,890.84 306.75,891.20 325.30,891.92 338.29,892.47 353.13,893.55 371.68,895.19 397.65,896.82 418.05,899.53 434.75,903.16 455.16,907.14 470.00,911.13 492.26,916.39 499.68,918.38 516.37,922.37 538.63,928.89 564.61,934.87 583.16,938.85 596.14,943.20 609.13,946.46 625.82,954.80" fill="none" stroke="#B177DE" stroke-width="1.6"/>
<polygon points="128.66,878.22 135.96,885.22 128.66,892.22 121.36,885.22" fill="#B177DE"/>
<polygon points="154.63,878.94 161.93,885.94 154.63,892.94 147.33,885.94" fill="#B177DE"/>
<polygon points="171.33,879.85 178.63,886.85 171.33,893.85 164.03,886.85" fill="#B177DE"/>
<polygon points="188.02,880.21 195.32,887.21 188.02,894.21 180.72,887.21" fill="#B177DE"/>
<polygon points="210.29,880.57 217.59,887.57 210.29,894.57 202.99,887.57" fill="#B177DE"/>
<polygon points="228.84,881.48 236.14,888.48 228.84,895.48 221.54,888.48" fill="#B177DE"/>
<polygon points="251.10,882.21 258.40,889.21 251.10,896.21 243.80,889.21" fill="#B177DE"/>
<polygon points="269.65,882.93 276.95,889.93 269.65,896.93 262.35,889.93" fill="#B177DE"/>
<polygon points="288.20,883.84 295.50,890.84 288.20,897.84 280.90,890.84" fill="#B177DE"/>
<polygon points="306.75,884.20 314.05,891.20 306.75,898.20 299.45,891.20" fill="#B177DE"/>
<polygon points="325.30,884.92 332.60,891.92 325.30,898.92 318.00,891.92" fill="#B177DE"/>
<polygon points="338.29,885.47 345.59,892.47 338.29,899.47 330.99,892.47" fill="#B177DE"/>
<polygon points="353.13,886.55 360.43,893.55 353.13,900.55 345.83,893.55" fill="#B177DE"/>
<polygon points="371.68,888.19 378.98,895.19 371.68,902.19 364.38,895.19" fill="#B177DE"/>
<polygon points="397.65,889.82 404.95,896.82 397.65,903.82 390.35,896.82" fill="#B177DE"/>
<polygon points="418.05,892.53 425.35,899.53 418.05,906.53 410.75,899.53" fill="#B177DE"/>
<polygon points="434.75,896.16 442.05,903.16 434.75,910.16 427.45,903.16" fill="#B177DE"/>
<polygon points="455.16,900.14 462.46,907.14 455.16,914.14 447.86,907.14" fill="#B177DE"/>
<polygon points="470.00,904.13 477.30,911.13 470.00,918.13 462.70,911.13" fill="#B177DE"/>
<polygon points="492.26,909.39 499.56,916.39 492.26,923.39 484.96,916.39" fill="#B177DE"/>
<polygon points="499.68,911.38 506.98,918.38 499.68,925.38 492.38,918.38" fill="#B177DE"/>
<polygon points="516.37,915.37 523.67,922.37 516.37,929.37 509.07,922.37" fill="#B177DE"/>
<polygon points="538.63,921.89 545.93,928.89 538.63,935.89 531.33,928.89" fill="#B177DE"/>
<polygon points="564.61,927.87 571.91,934.87 564.61,941.87 557.31,934.87" fill="#B177DE"/>
<polygon points="583.16,931.85 590.46,938.85 583.16,945.85 575.86,938.85" fill="#B177DE"/>
<polygon points="596.14,936.20 603.44,943.20 596.14,950.20 588.84,943.20" fill="#B177DE"/>
<polygon points="609.13,939.46 616.43,946.46 609.13,953.46 601.83,946.46" fill="#B177DE"/>
<polygon points="625.82,947.80 633.12,954.80 625.82,961.80 618.52,954.80" fill="#B177DE"/>
<polyline points="128.66,840.83 154.63,841.19 171.33,841.91 188.02,842.82 210.29,844.09 228.84,844.81 251.10,846.08 269.65,846.80 288.20,848.07 306.75,849.16 325.30,850.07 338.29,850.43 353.13,851.15 371.68,852.42 397.65,854.05 418.05,856.77 434.75,860.03 455.16,863.11 470.00,867.28 492.26,872.35 499.68,876.88 516.37,884.86 538.63,891.20 564.61,895.91 583.16,904.06 596.14,907.14 609.13,911.67 625.82,918.56" fill="none" stroke="#CC9900" stroke-width="1.6"/>
<polygon points="119.96,840.83 132.76,834.28 132.76,847.38" fill="#CC9900"/>
<polygon points="145.93,841.19 158.73,834.64 158.73,847.74" fill="#CC9900"/>
<polygon points="162.63,841.91 175.43,835.36 175.43,848.46" fill="#CC9900"/>
<polygon points="179.32,842.82 192.12,836.27 192.12,849.37" fill="#CC9900"/>
<polygon points="201.59,844.09 214.39,837.54 214.39,850.64" fill="#CC9900"/>
<polygon points="220.14,844.81 232.94,838.26 232.94,851.36" fill="#CC9900"/>
<polygon points="242.40,846.08 255.20,839.53 255.20,852.63" fill="#CC9900"/>
<polygon points="260.95,846.80 273.75,840.25 273.75,853.35" fill="#CC9900"/>
<polygon points="279.50,848.07 292.30,841.52 292.30,854.62" fill="#CC9900"/>
<polygon points="298.05,849.16 310.85,842.61 310.85,855.71" fill="#CC9900"/>
<polygon points="316.60,850.07 329.40,843.52 329.40,856.62" fill="#CC9900"/>
<polygon points="329.59,850.43 342.39,843.88 342.39,856.98" fill="#CC9900"/>
<polygon points="344.43,851.15 357.23,844.60 357.23,857.70" fill="#CC9900"/>
<polygon points="362.98,852.42 375.78,845.87 375.78,858.97" fill="#CC9900"/>
<polygon points="388.95,854.05 401.75,847.50 401.75,860.60" fill="#CC9900"/>
<polygon points="409.35,856.77 422.15,850.22 422.15,863.32" fill="#CC9900"/>
<polygon points="426.05,860.03 438.85,853.48 438.85,866.58" fill="#CC9900"/>
<polygon points="446.46,863.11 459.26,856.56 459.26,869.66" fill="#CC9900"/>
<polygon points="461.30,867.28 474.10,860.73 474.10,873.83" fill="#CC9900"/>
<polygon points="483.56,872.35 496.36,865.80 496.36,878.90" fill="#CC9900"/>
<polygon points="490.98,876.88 503.78,870.33 503.78,883.43" fill="#CC9900"/>
<polygon points="507.67,884.86 520.47,878.31 520.47,891.41" fill="#CC9900"/>
<polygon points="529.93,891.20 542.73,884.65 542.73,897.75" fill="#CC9900"/>
<polygon points="555.91,895.91 568.71,889.36 568.71,902.46" fill="#CC9900"/>
<polygon points="574.46,904.06 587.26,897.51 587.26,910.61" fill="#CC9900"/>
<polygon points="587.44,907.14 600.24,900.59 600.24,913.69" fill="#CC9900"/>
<polygon points="600.43,911.67 613.23,905.12 613.23,918.22" fill="#CC9900"/>
<polygon points="617.12,918.56 629.92,912.01 629.92,925.11" fill="#CC9900"/>
<polyline points="128.66,786.83 154.63,787.55 171.33,788.46 188.02,789.18 210.29,790.45 228.84,791.54 251.10,792.81 269.65,794.08 288.20,795.16 306.75,796.07 325.30,796.43 338.29,796.79 353.13,798.06 371.68,800.06 397.65,803.14 418.05,805.67 434.75,809.12 455.16,813.65 470.00,818.36 492.26,825.24 499.68,830.86 516.37,837.56 538.63,849.16 564.61,856.05 583.16,862.03 596.14,866.37 609.13,873.26 625.82,882.32" fill="none" stroke="#00CBCC" stroke-width="1.6"/>
<polygon points="137.36,786.83 124.56,780.28 124.56,793.38" fill="#00CBCC"/>
<polygon points="163.33,787.55 150.53,781.00 150.53,794.10" fill="#00CBCC"/>
<polygon points="180.03,788.46 167.23,781.91 167.23,795.01" fill="#00CBCC"/>
<polygon points="196.72,789.18 183.92,782.63 183.92,795.73" fill="#00CBCC"/>
<polygon points="218.99,790.45 206.19,783.90 206.19,797.00" fill="#00CBCC"/>
<polygon points="237.54,791.54 224.74,784.99 224.74,798.09" fill="#00CBCC"/>
<polygon points="259.80,792.81 247.00,786.26 247.00,799.36" fill="#00CBCC"/>
<polygon points="278.35,794.08 265.55,787.53 265.55,800.63" fill="#00CBCC"/>
<polygon points="296.90,795.16 284.10,788.61 284.10,801.71" fill="#00CBCC"/>
<polygon points="315.45,796.07 302.65,789.52 302.65,802.62" fill="#00CBCC"/>
<polygon points="334.00,796.43 321.20,789.88 321.20,802.98" fill="#00CBCC"/>
<polygon points="346.99,796.79 334.19,790.24 334.19,803.34" fill="#00CBCC"/>
<polygon points="361.83,798.06 349.03,791.51 349.03,804.61" fill="#00CBCC"/>
<polygon points="380.38,800.06 367.58,793.51 367.58,806.61" fill="#00CBCC"/>
<polygon points="406.35,803.14 393.55,796.59 393.55,809.69" fill="#00CBCC"/>
<polygon points="426.75,805.67 413.95,799.12 413.95,812.22" fill="#00CBCC"/>
<polygon points="443.45,809.12 430.65,802.57 430.65,815.67" fill="#00CBCC"/>
<polygon points="463.86,813.65 451.06,807.10 451.06,820.20" fill="#00CBCC"/>
<polygon points="478.70,818.36 465.90,811.81 465.90,824.91" fill="#00CBCC"/>
<polygon points="500.96,825.24 488.16,818.69 488.16,831.79" fill="#00CBCC"/>
<polygon points="508.38,830.86 495.58,824.31 495.58,837.41" fill="#00CBCC"/>
<polygon points="525.07,837.56 512.27,831.01 512.27,844.11" fill="#00CBCC"/>
<polygon points="547.33,849.16 534.53,842.61 534.53,855.71" fill="#00CBCC"/>
<polygon points="573.31,856.05 560.51,849.50 560.51,862.60" fill="#00CBCC"/>
<polygon points="591.86,862.03 579.06,855.48 579.06,868.58" fill="#00CBCC"/>
<polygon points="604.84,866.37 592.04,859.82 592.04,872.92" fill="#00CBCC"/>
<polygon points="617.83,873.26 605.03,866.71 605.03,879.81" fill="#00CBCC"/>
<polygon points="634.52,882.32 621.72,875.77 621.72,888.87" fill="#00CBCC"/>
<polyline points="128.66,733.55 154.63,735.37 171.33,736.45 188.02,737.18 210.29,738.45 228.84,739.17 251.10,740.44 269.65,741.53 288.20,742.43 306.75,743.16 325.30,744.06 338.29,744.79 353.13,747.14 371.68,750.77 397.65,752.04 418.05,756.75 434.75,762.37 455.16,766.71 470.00,774.32 492.26,781.57 499.68,789.55 516.37,797.16 538.63,805.67 564.61,813.28 583.16,822.34 596.14,829.95 609.13,834.85 625.82,846.08" fill="none" stroke="#7D4E4E" stroke-width="1.6"/>
<polygon points="128.66,727.40 134.41,730.48 134.41,736.63 128.66,739.70 122.91,736.63 122.91,730.48" fill="#7D4E4E"/>
<polygon points="154.63,729.22 160.38,732.29 160.38,738.44 154.63,741.52 148.88,738.44 148.88,732.29" fill="#7D4E4E"/>
<polygon points="171.33,730.30 177.08,733.38 177.08,739.53 171.33,742.60 165.58,739.53 165.58,733.38" fill="#7D4E4E"/>
<polygon points="188.02,731.03 193.77,734.10 193.77,740.25 188.02,743.33 182.27,740.25 182.27,734.10" fill="#7D4E4E"/>
<polygon points="210.29,732.30 216.04,735.37 216.04,741.52 210.29,744.60 204.54,741.52 204.54,735.37" fill="#7D4E4E"/>
<polygon points="228.84,733.02 234.59,736.10 234.59,742.25 228.84,745.32 223.09,742.25 223.09,736.10" fill="#7D4E4E"/>
<polygon points="251.10,734.29 256.85,737.37 256.85,743.52 251.10,746.59 245.35,743.52 245.35,737.37" fill="#7D4E4E"/>
<polygon points="269.65,735.38 275.40,738.45 275.40,744.60 269.65,747.68 263.90,744.60 263.90,738.45" fill="#7D4E4E"/>
<polygon points="288.20,736.28 293.95,739.36 293.95,745.51 288.20,748.58 282.45,745.51 282.45,739.36" fill="#7D4E4E"/>
<polygon points="306.75,737.01 312.50,740.08 312.50,746.23 306.75,749.31 301.00,746.23 301.00,740.08" fill="#7D4E4E"/>
<polygon points="325.30,737.91 331.05,740.99 331.05,747.14 325.30,750.21 319.55,747.14 319.55,740.99" fill="#7D4E4E"/>
<polygon points="338.29,738.64 344.04,741.71 344.04,747.86 338.29,750.94 332.54,747.86 332.54,741.71" fill="#7D4E4E"/>
<polygon points="353.13,740.99 358.88,744.07 358.88,750.22 353.13,753.29 347.38,750.22 347.38,744.07" fill="#7D4E4E"/>
<polygon points="371.68,744.62 377.43,747.69 377.43,753.84 371.68,756.92 365.93,753.84 365.93,747.69" fill="#7D4E4E"/>
<polygon points="397.65,745.89 403.40,748.96 403.40,755.11 397.65,758.19 391.90,755.11 391.90,748.96" fill="#7D4E4E"/>
<polygon points="418.05,750.60 423.80,753.67 423.80,759.82 418.05,762.90 412.30,759.82 412.30,753.67" fill="#7D4E4E"/>
<polygon points="434.75,756.22 440.50,759.29 440.50,765.44 434.75,768.52 429.00,765.44 429.00,759.29" fill="#7D4E4E"/>
<polygon points="455.16,760.56 460.91,763.64 460.91,769.79 455.16,772.86 449.41,769.79 449.41,763.64" fill="#7D4E4E"/>
<polygon points="470.00,768.17 475.75,771.25 475.75,777.40 470.00,780.47 464.25,777.40 464.25,771.25" fill="#7D4E4E"/>
<polygon points="492.26,775.42 498.01,778.50 498.01,784.65 492.26,787.72 486.51,784.65 486.51,778.50" fill="#7D4E4E"/>
<polygon points="499.68,783.40 505.43,786.47 505.43,792.62 499.68,795.70 493.93,792.62 493.93,786.47" fill="#7D4E4E"/>
<polygon points="516.37,791.01 522.12,794.08 522.12,800.23 516.37,803.31 510.62,800.23 510.62,794.08" fill="#7D4E4E"/>
<polygon points="538.63,799.52 544.38,802.60 544.38,808.75 538.63,811.82 532.88,808.75 532.88,802.60" fill="#7D4E4E"/>
<polygon points="564.61,807.13 570.36,810.21 570.36,816.36 564.61,819.43 558.86,816.36 558.86,810.21" fill="#7D4E4E"/>
<polygon points="583.16,816.19 588.91,819.27 588.91,825.42 583.16,828.49 577.41,825.42 577.41,819.27" fill="#7D4E4E"/>
<polygon points="596.14,823.80 601.89,826.88 601.89,833.03 596.14,836.10 590.39,833.03 590.39,826.88" fill="#7D4E4E"/>
<polygon points="609.13,828.70 614.88,831.77 614.88,837.92 609.13,841.00 603.38,837.92 603.38,831.77" fill="#7D4E4E"/>
<polygon points="625.82,839.93 631.57,843.00 631.57,849.15 625.82,852.23 620.07,849.15 620.07,843.00" fill="#7D4E4E"/>
<text transform="translate(123.0,724.4) scale(1.042,1)" font-size="17.5">y = -0.2396x<tspan dx="0.9" dy="-7.0" font-size="12.4">2</tspan><tspan dy="7.0"> + 0.4037x + 21.786</tspan></text>
<text transform="translate(122.0,776.7) scale(1.0411,1)" font-size="17.5">y = -2.1512x<tspan dx="0.9" dy="-7.0" font-size="12.4">2</tspan><tspan dy="7.0"> + 2.3314x + 53.675</tspan></text>
<text transform="translate(123.0,828.0) scale(1.0486,1)" font-size="17.5">y = -3.7935x<tspan dx="0.9" dy="-7.0" font-size="12.4">2</tspan><tspan dy="7.0"> + 4.8915x + 80.108</tspan></text>
<text transform="translate(123.0,875.2) scale(1.047,1)" font-size="17.5">y = -5.1469x<tspan dx="0.9" dy="-7.0" font-size="12.4">2</tspan><tspan dy="7.0"> + 5.164x + 109.85</tspan></text>
<text transform="translate(123.0,922.6) scale(1.046,1)" font-size="17.5">y = -6.9502x<tspan dx="0.9" dy="-7.0" font-size="12.4">2</tspan><tspan dy="7.0"> + 9.8307x + 134.08</tspan></text>
<text transform="translate(124.0,975.6) scale(1.0409,1)" font-size="17.5">y = -8.5676x<tspan dx="0.9" dy="-7.0" font-size="12.4">2</tspan><tspan dy="7.0"> + 13.877x + 156.33</tspan></text>
<text transform="translate(123.0,1030.0) scale(1.043,1)" font-size="17.5">y = -11.313x<tspan dx="0.9" dy="-7.0" font-size="12.4">2</tspan><tspan dy="7.0">+17.683x + 207.73</tspan></text>
<text transform="translate(122.0,1082.7) scale(1.05,1)" font-size="17.5">y = -12.165x2 + 19.625x + 212.85</text>
<path d="M162.05,1136.0 v-8.3 M254.81,1136.0 v-8.3 M347.56,1136.0 v-8.3 M440.32,1136.0 v-8.3 M533.07,1136.0 v-8.3 M625.82,1136.0 v-8.3 M115.68,1136.0 v-3.8 M208.43,1136.0 v-3.8 M301.18,1136.0 v-3.8 M393.94,1136.0 v-3.8 M486.69,1136.0 v-3.8 M579.45,1136.0 v-3.8 M672.20,1136.0 v-3.8 M69.3,1045.40 h9.3 M69.3,954.80 h9.3 M69.3,864.20 h9.3 M69.3,773.60 h9.3 M69.3,1090.70 h4.5 M69.3,1000.10 h4.5 M69.3,909.50 h4.5 M69.3,818.90 h4.5 M69.3,728.30 h4.5" stroke="#000" stroke-width="1.7" fill="none"/>
<rect x="564.6" y="683.0" width="106.4" height="117.2" fill="#fff" stroke="#555" stroke-width="0.7"/>
<line x1="566.0" y1="691.30" x2="595.4" y2="691.30" stroke="#515151" stroke-width="1.6"/>
<rect x="575.40" y="686.25" width="10.61" height="10.10" fill="#515151"/>
<text class="lg" transform="translate(598.6,695.38) scale(1.06,1)" font-size="11.6">Heat to 20°C</text>
<line x1="566.0" y1="705.80" x2="595.4" y2="705.80" stroke="#F14040" stroke-width="1.6"/>
<ellipse cx="580.70" cy="705.80" rx="6.00" ry="5.70" fill="#F14040"/>
<text class="lg" transform="translate(598.6,709.88) scale(1.06,1)" font-size="11.6">Heat to 40°C</text>
<line x1="566.0" y1="720.30" x2="595.4" y2="720.30" stroke="#1A6FDF" stroke-width="1.6"/>
<polygon points="580.70,712.90 587.70,724.30 573.70,724.30" fill="#1A6FDF"/>
<text class="lg" transform="translate(598.6,724.38) scale(1.06,1)" font-size="11.6">Heat to 60°C</text>
<line x1="566.0" y1="734.80" x2="595.4" y2="734.80" stroke="#37AD6B" stroke-width="1.6"/>
<polygon points="580.70,742.20 587.70,730.80 573.70,730.80" fill="#37AD6B"/>
<text class="lg" transform="translate(598.6,738.88) scale(1.06,1)" font-size="11.6">Heat to 80°C</text>
<line x1="566.0" y1="749.30" x2="595.4" y2="749.30" stroke="#B177DE" stroke-width="1.6"/>
<polygon points="580.70,742.30 588.00,749.30 580.70,756.30 573.40,749.30" fill="#B177DE"/>
<text class="lg" transform="translate(598.6,753.38) scale(1.06,1)" font-size="11.6">Heat to 100°C</text>
<line x1="566.0" y1="763.80" x2="595.4" y2="763.80" stroke="#CC9900" stroke-width="1.6"/>
<polygon points="572.00,763.80 584.80,757.25 584.80,770.35" fill="#CC9900"/>
<text class="lg" transform="translate(598.6,767.88) scale(1.06,1)" font-size="11.6">Heat to 120°C</text>
<line x1="566.0" y1="778.30" x2="595.4" y2="778.30" stroke="#00CBCC" stroke-width="1.6"/>
<polygon points="589.40,778.30 576.60,771.75 576.60,784.85" fill="#00CBCC"/>
<text class="lg" transform="translate(598.6,782.38) scale(1.06,1)" font-size="11.6">Heat to 140°C</text>
<line x1="566.0" y1="792.80" x2="595.4" y2="792.80" stroke="#7D4E4E" stroke-width="1.6"/>
<polygon points="580.70,786.65 586.45,789.72 586.45,795.88 580.70,798.95 574.95,795.88 574.95,789.72" fill="#7D4E4E"/>
<text class="lg" transform="translate(598.6,796.88) scale(1.06,1)" font-size="11.6">Heat to 160°C</text>
<rect x="69.3" y="683.0" width="602.9" height="453.0" fill="none" stroke="#000" stroke-width="1.7"/>
<text transform="translate(58.8,1141.80) scale(1.05,1)" font-size="19.2" text-anchor="end">0</text>
<text transform="translate(58.8,1051.20) scale(1.05,1)" font-size="19.2" text-anchor="end">50</text>
<text transform="translate(58.8,960.60) scale(1.05,1)" font-size="19.2" text-anchor="end">100</text>
<text transform="translate(58.8,870.00) scale(1.05,1)" font-size="19.2" text-anchor="end">150</text>
<text transform="translate(58.8,779.40) scale(1.05,1)" font-size="19.2" text-anchor="end">200</text>
<text transform="translate(58.8,688.80) scale(1.05,1)" font-size="19.2" text-anchor="end">250</text>
<text transform="translate(68.80,1160.70) scale(1.03,1)" font-size="19.2" text-anchor="middle">0.0</text>
<text transform="translate(161.55,1160.70) scale(1.03,1)" font-size="19.2" text-anchor="middle">0.5</text>
<text transform="translate(254.31,1160.70) scale(1.03,1)" font-size="19.2" text-anchor="middle">1.0</text>
<text transform="translate(347.06,1160.70) scale(1.03,1)" font-size="19.2" text-anchor="middle">1.5</text>
<text transform="translate(439.82,1160.70) scale(1.03,1)" font-size="19.2" text-anchor="middle">2.0</text>
<text transform="translate(532.57,1160.70) scale(1.03,1)" font-size="19.2" text-anchor="middle">2.5</text>
<text transform="translate(625.32,1160.70) scale(1.03,1)" font-size="19.2" text-anchor="middle">3.0</text>
<text transform="translate(371.2,1197.0) scale(1.05,1)" font-size="24" text-anchor="middle">Thickness(mm)</text>
<text transform="translate(17.0,909.5) rotate(-90) scale(0.98,1)" font-size="24" text-anchor="middle">Temperature(°C)</text>
<text class="cap" x="353.3" y="1273" font-size="23.5" text-anchor="middle">(b)</text>
</g>
</svg>
</body></html>
